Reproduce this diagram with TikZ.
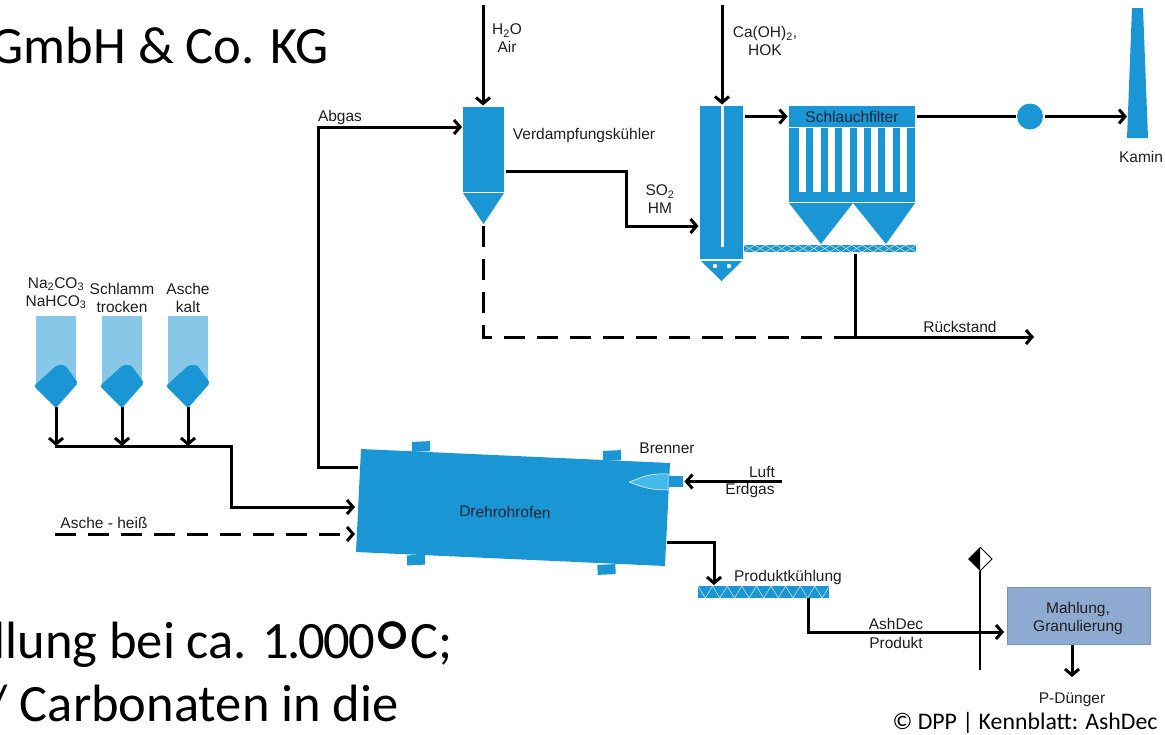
\documentclass[tikz,border=0pt]{standalone}
\usepackage{fontspec}
\setmainfont{Liberation Sans}
\newfontfamily\slidefont{Carlito}
\usepackage{tikz}
\usetikzlibrary{arrows.meta, calc, positioning}
\definecolor{pipeblue}{RGB}{27,150,212}
\definecolor{siloblue}{RGB}{135,200,232}
\definecolor{flameblue}{RGB}{70,185,235}
\definecolor{millblue}{RGB}{143,170,208}
\definecolor{milledge}{RGB}{115,150,195}
\definecolor{labelgrey}{RGB}{30,30,30}
\tikzset{
    flowline/.style={black, line width=3pt, -{Straight Barb[length=6pt,width=14pt,line width=3pt]}},
    plainline/.style={black, line width=3pt},
    dashline/.style={dash pattern=on 21pt off 12pt},
    vessel/.style={fill=pipeblue, inner sep=0pt, outer sep=1.5pt},
    lbl/.style={font=\fontsize{15.5}{18}\selectfont, text=labelgrey, align=center, inner sep=0pt},
    slidetext/.style={font=\slidefont\fontsize{52.5}{60}\selectfont, anchor=base east, inner sep=0pt},
}
\begin{document}
\begin{tikzpicture}[x=1pt, y=-1pt]
    \useasboundingbox (0,0) rectangle (1165,734);
    \clip (0,0) rectangle (1165,734);

    % Slide text
    \node[slidetext] (title) at (329,63) {GmbH \& Co. KG};
    \node[slidetext] (lineone) at (453,658) {llung bei ca. 1\kern-2pt.\kern-2pt0\kern-2pt0\kern-2pt0\makebox[36pt]{\smash{\normalfont\fontsize{100}{100}\selectfont\raisebox{-33pt}{°}}}C;};
    \node[slidetext] (linetwo) at (399,721) {/ Carbonaten in die};
    \node[font=\slidefont\fontsize{23.8}{28}\selectfont, inner sep=0pt] (credit) at (1025,723) {© DPP | Kennblatt: AshDec};

    % Verdampfungskuehler
    \node[vessel, minimum width=41, minimum height=85] (cooler) at (483.5,149.5) {};
    \fill[pipeblue] (463,193) -- (504,193) -- (483.5,224) -- cycle;
    \node[lbl] (coolerlbl) at (584,135) {Verdampfungskühler};
    \coordinate (wasserin) at (483,5);
    \coordinate (kalkin) at (722,5);
    \node[lbl] (wasserlbl) at (507,38) {H\textsubscript{2}O\\Air};
    \node[lbl] (kalklbl) at (765,41) {Ca(OH)\textsubscript{2},\\HOK};

    % Reaktor
    \node[vessel, minimum width=43, minimum height=153] (reactor) at (721.5,182.5) {};
    \fill[white] (721,106) rectangle (723.5,247);
    \fill[pipeblue] (701,261) -- (742,261) -- (721.5,281) -- cycle;
    \foreach \x in {715,729} {
        \fill[white] (\x,266) circle (2.2);
    }

    % Schlauchfilter
    \fill[pipeblue] (789,127) rectangle (915,202);
    \node[vessel, minimum width=126, minimum height=21, font=\fontsize{15.5}{18}\selectfont, text=black!75!pipeblue] (filterhead) at (852,116.5) {Schlauchfilter};
    \draw[white, line width=0.4pt] (789,127.5) -- (915,127.5);
    \foreach \x in {799,813.4,827.8,842.2,856.6,871,885.4,899.8} {
        \fill[white] (\x,128) rectangle (\x+7.3,192);
    }
    \fill[pipeblue] (789,203) -- (853,203) -- (821,244) -- cycle;
    \fill[pipeblue] (853,203) -- (915,203) -- (886,244) -- cycle;

    % Schnecke unter dem Filter
    \node[vessel, minimum width=172, minimum height=7] (screwtop) at (830,248.5) {};
    \foreach \x in {744,765.5,787,808.5,830,851.5,873,894.5} {
        \draw[white, line width=0.4pt] (\x,252) -- (\x+10.75,245) -- (\x+21.5,252);
        \draw[white, line width=0.4pt] (\x,245) -- (\x+10.75,252) -- (\x+21.5,245);
    }

    % Geblaese und Kamin
    \node[vessel, circle, minimum size=26] (fan) at (1030,116.5) {};
    \fill[pipeblue] (1132,8) -- (1143,8) -- (1148,138) -- (1127,138) -- cycle;
    \coordinate (kaminin) at (1127,116.5);
    \node[lbl] (kaminlbl) at (1141,157) {Kamin};

    % Silos
    \foreach \x/\n/\t/\y in {56/silob/Na\textsubscript{2}CO\textsubscript{3}\\NaHCO\textsubscript{3}/293, 122/silos/Schlamm\\trocken/298, 188/siloa/Asche\\kalt/298} {
        \fill[siloblue] (\x-20,316) -- (\x+20,316) -- (\x+20,384) -- (\x-20,384) -- cycle;
        \fill[pipeblue, rounded corners=2pt] (\x-22,386) -- (\x+1,365) -- (\x+9,365) -- (\x+22,383) -- (\x,408) -- cycle;
        \node[lbl] (\n lbl) at (\x,\y) {\t};
        \coordinate (\n) at (\x,407);
        \coordinate (\n sammel) at (\x,446);
        \draw[flowline] (\n) -- (\n sammel);
    }
    \coordinate (ofeninone) at (355,507);
    \coordinate (ofenintwo) at (355,534);
    \coordinate (heissstart) at (55,534);
    \draw[flowline] (54.8,446) -- (231,446) -- (231,507) -- (ofeninone);
    \draw[flowline, dashline] (heissstart) -- (ofenintwo);
    \node[lbl] (heisslbl) at (104,523) {Asche - heiß};

    % Drehrohrofen
    \foreach \x/\y in {421/446.5, 612/455.5, 416/560, 606.5/569.5} {
        \fill[pipeblue, rotate around={2.6:(\x,\y)}] (\x-9,\y-5) rectangle (\x+9,\y+5);
    }
    \fill[pipeblue] (361,449) -- (670,463) -- (665,566) -- (356,552) -- cycle;
    \node[font=\fontsize{15.5}{18}\selectfont, text=black!75!pipeblue, inner sep=0pt, rotate=-1] (ofenlbl) at (505,512) {Drehrohrofen};
    \node[vessel, minimum width=14, minimum height=11] (burner) at (676,481.5) {};
    \draw[white, line width=0.5pt, fill=flameblue] (629,482) .. controls (642,477) and (650,473) .. (668,474) -- (668,490) .. controls (650,490) and (642,487) .. (629,482);
    \node[lbl] (brennerlbl) at (667,448) {Brenner};
    \node[lbl] (luftlbl) at (762,472) {Luft};
    \node[lbl] (gaslbl) at (750,490) {Erdgas};
    \coordinate (luftin) at (782,481.5);
    \coordinate (ofenabgas) at (358,467);
    \coordinate (coolerin) at (462,127);
    \coordinate (ofenaus) at (667,542);
    \node[lbl] (abgaslbl) at (340,117) {Abgas};

    % Produktkuehlung
    \node[vessel, minimum width=131, minimum height=12] (screwbottom) at (763.5,592) {};
    \foreach \x in {698,712.6,727.2,741.8,756.4,771,785.6,800.2,814.8} {
        \draw[white, line width=0.4pt] (\x,586) -- (\x+7.3,598) -- (\x+14.6,586);
    }
    \node[lbl] (kuehllbl) at (788,577) {Produktkühlung};
    \coordinate (kuehlin) at (714,585);

    % Mahlung
    \node[draw=milledge, fill=millblue, minimum width=143, minimum height=57, inner sep=0pt, outer sep=1pt] (mill) at (1078.5,615.5) {};
    \node[lbl] (milllbl) at (1078,618.5) {Mahlung,\\Granulierung};
    \coordinate (millin) at (1004,632);
    \coordinate (duengerout) at (1072,677);
    \node[lbl] (duengerlbl) at (1072,700) {P-Dünger};
    \coordinate (kuehlaus) at (808,598);
    \node[lbl] (produktlbl) at (896,633) {AshDec\\[1pt]Produkt};

    % Probenahme
    \coordinate (probetop) at (980,571);
    \coordinate (probebottom) at (980,670);
    \draw[black, line width=1.4pt] (probetop) -- (probebottom);
    \fill[black] (980,547) -- (980,571) -- (968,559) -- cycle;
    \draw[black, line width=0.9pt] (980,547) -- (992,559) -- (980,571);

    % Rueckstand
    \coordinate (coolertip) at (483,226);
    \coordinate (abzweig) at (855,337);
    \coordinate (rueckaus) at (1034,337);
    \node[lbl] (rueckstandlbl) at (960,327) {Rückstand};

    % Connectors
    \draw[flowline] (wasserin) -- (cooler.north -| wasserin);
    \draw[flowline] (kalkin) -- (reactor.north -| kalkin);
    \draw[flowline] (ofenabgas) -- (318,467) -- (318,127) -- (coolerin);
    \draw[flowline] (reactor.east |- filterhead.west) -- (filterhead.west);
    \draw[plainline] (filterhead.east) -- (fan.west);
    \draw[flowline] (fan.east) -- (kaminin);
    \draw[flowline] (506,171) -- (626,171) -- (626,226) -- (reactor.west |- 0,226);
    \node[lbl] (so2lbl) at (660,199) {SO\textsubscript{2}\\HM};
    \draw[plainline, dashline] (coolertip) |- (abzweig);
    \draw[flowline] (abzweig) -- (rueckaus);
    \draw[plainline] (screwtop.south -| abzweig) -- (abzweig);
    \draw[flowline] (luftin) -- (burner.east);
    \draw[flowline] (ofenaus) -| (kuehlin);
    \draw[flowline] (kuehlaus) |- (millin);
    \draw[flowline] (mill.south -| duengerout) -- (duengerout);
\end{tikzpicture}
\end{document}
